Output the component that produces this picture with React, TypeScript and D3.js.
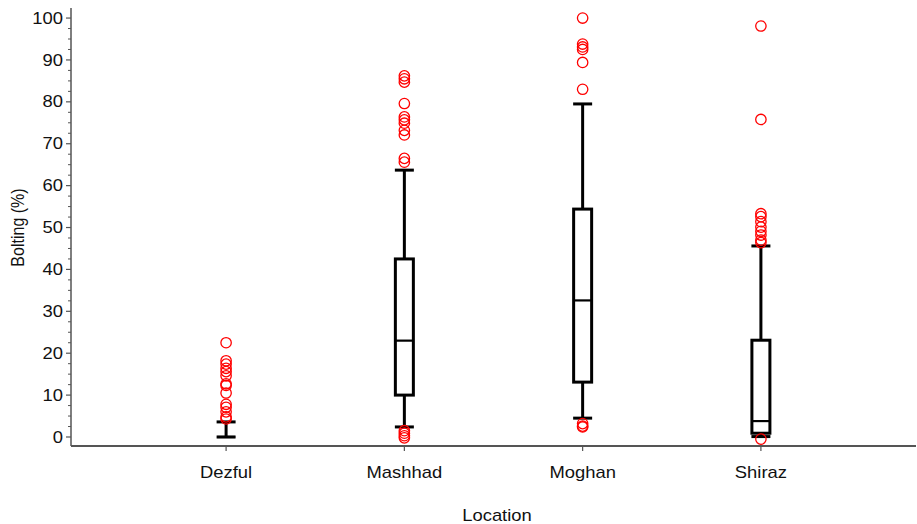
import React from "react";
import * as d3 from "d3";

const categories = ["Dezful", "Mashhad", "Moghan", "Shiraz"];
const q1 = [0, 10, 13.1, 0.9];
const medians = [0, 23, 32.6, 3.8];
const q3 = [0, 42.5, 54.4, 23.1];
const whiskerLow = [0, 2.4, 4.5, 0.1];
const whiskerHigh = [3.6, 63.7, 79.5, 45.6];
const outliers: number[][] = [
  [22.5, 18.2, 17.4, 16.4, 15.6, 14.6, 12.7, 12.3, 10.5, 7.8, 7.1, 6.0, 4.8, 4.3],
  [86.2, 85.5, 84.7, 79.6, 76.4, 75.7, 74.9, 73.2, 72.1, 66.5, 65.6, 1.5, 0.9, 0.3, -0.2],
  [100, 93.8, 93.1, 92.5, 89.4, 83, 3.2, 2.6, 2.4],
  [98.1, 75.8, 53.3, 52.6, 51.4, 50.1, 49.1, 48.2, 47.0, 46.4, -0.5],
];
const yTicks = [0, 10, 20, 30, 40, 50, 60, 70, 80, 90, 100];
const yLabel = "Bolting (%)";
const xLabel = "Location";

export default function App() {
  const width = 917;
  const height = 524;
  const left = 71;
  const right = 916;
  const top = 8;
  const bottom = 446;
  const y = d3.scaleLinear().domain([-2.15, 102.4]).range([bottom, top]);
  const x = d3.scalePoint<string>().domain(categories).range([left, right]).padding(0.87);
  const minorTicks = d3.range(0, 100.01, 2.5).filter((v) => v % 10 !== 0);
  const boxW = 18;
  const capW = 19;
  const font = "Arial, 'Liberation Sans', sans-serif";
  const axisColor = "#555";
  const sx = 1.15;

  return (
    <svg width={width} height={height} style={{ position: "absolute", left: 0, top: 0, background: "#fff" }}>
      <rect x={0} y={0} width={width} height={height} fill="#fff" />
      {/* axes */}
      <line x1={left} x2={left} y1={top} y2={bottom} stroke={axisColor} strokeWidth={1.5} />
      <line x1={left} x2={right} y1={bottom} y2={bottom} stroke={axisColor} strokeWidth={2} />
      {yTicks.map((t) => (
        <g key={t}>
          <line x1={left - 5} x2={left} y1={y(t)} y2={y(t)} stroke={axisColor} strokeWidth={1.2} />
          <g transform={`translate(${left - 8},${y(t)}) scale(${sx},1)`}>
            <text dy="0.35em" textAnchor="end" fontFamily={font} fontSize={16} fill="#111">
              {t}
            </text>
          </g>
        </g>
      ))}
      {minorTicks.map((t) => (
        <line key={t} x1={left - 3} x2={left} y1={y(t)} y2={y(t)} stroke={axisColor} strokeWidth={1} />
      ))}
      {categories.map((c) => (
        <g key={c}>
          <line x1={x(c)!} x2={x(c)!} y1={bottom} y2={bottom + 5} stroke={axisColor} strokeWidth={1.2} />
          <g transform={`translate(${x(c)!},478) scale(${sx},1)`}>
            <text textAnchor="middle" fontFamily={font} fontSize={16} fill="#111">
              {c}
            </text>
          </g>
        </g>
      ))}
      <g transform={`translate(24,${(y(0) + y(100)) / 2}) scale(${sx},1) rotate(-90)`}>
        <text textAnchor="middle" fontFamily={font} fontSize={16} fill="#111">
          {yLabel}
        </text>
      </g>
      <g transform={`translate(497,521) scale(${sx},1)`}>
        <text textAnchor="middle" fontFamily={font} fontSize={16} fill="#111">
          {xLabel}
        </text>
      </g>
      {/* boxes */}
      {categories.map((c, i) => {
        const cx = x(c)!;
        return (
          <g key={c} stroke="#000" strokeWidth={3} fill="none">
            <line x1={cx} x2={cx} y1={y(q3[i])} y2={y(whiskerHigh[i])} />
            <line x1={cx} x2={cx} y1={y(q1[i])} y2={y(whiskerLow[i])} />
            <line x1={cx - capW / 2} x2={cx + capW / 2} y1={y(whiskerHigh[i])} y2={y(whiskerHigh[i])} />
            <line x1={cx - capW / 2} x2={cx + capW / 2} y1={y(whiskerLow[i])} y2={y(whiskerLow[i])} />
            {q3[i] > q1[i] && (
              <rect x={cx - boxW / 2} y={y(q3[i])} width={boxW} height={y(q1[i]) - y(q3[i])} />
            )}
            <line x1={cx - boxW / 2} x2={cx + boxW / 2} y1={y(medians[i])} y2={y(medians[i])} strokeWidth={2.2} />
          </g>
        );
      })}
      {categories.map((c, i) =>
        outliers[i].map((v, j) => (
          <circle key={c + j} cx={x(c)!} cy={y(v)} r={5.2} fill="none" stroke="#f00" strokeWidth={1.3} />
        ))
      )}
    </svg>
  );
}
